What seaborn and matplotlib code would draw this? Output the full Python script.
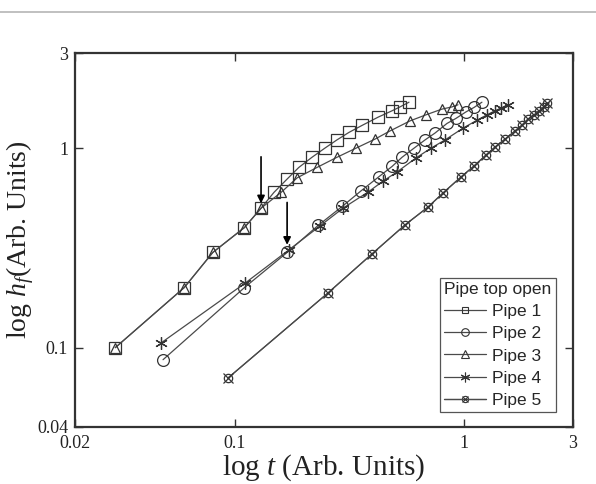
import matplotlib
matplotlib.use("Agg")
import matplotlib.pyplot as plt
from matplotlib.lines import Line2D
from matplotlib.legend_handler import HandlerTuple
from matplotlib.ticker import FixedLocator, FixedFormatter, NullLocator
import seaborn as sns

# ---- data: fluid height vs. time, log-log ----
t_pipe1 = [0.030, 0.060, 0.080, 0.110, 0.130, 0.148, 0.169, 0.190, 0.217,
           0.247, 0.279, 0.315, 0.359, 0.422, 0.486, 0.526, 0.576]
h_pipe1 = [0.10, 0.20, 0.30, 0.40, 0.50, 0.60, 0.70, 0.80, 0.90,
           1.00, 1.10, 1.20, 1.30, 1.43, 1.54, 1.61, 1.70]

t_pipe2 = [0.0485, 0.110, 0.169, 0.231, 0.294, 0.355, 0.426, 0.486, 0.537,
           0.606, 0.677, 0.748, 0.844, 0.924, 1.022, 1.108, 1.200]
h_pipe2 = [0.087, 0.20, 0.30, 0.41, 0.51, 0.61, 0.72, 0.81, 0.90,
           1.00, 1.10, 1.19, 1.33, 1.41, 1.52, 1.60, 1.70]

t_pipe3 = [0.030, 0.060, 0.080, 0.110, 0.130, 0.159, 0.187, 0.228, 0.279,
           0.338, 0.409, 0.476, 0.582, 0.684, 0.803, 0.888, 0.943]
h_pipe3 = [0.10, 0.20, 0.30, 0.40, 0.50, 0.60, 0.71, 0.80, 0.90,
           1.00, 1.11, 1.22, 1.37, 1.47, 1.57, 1.61, 1.65]

t_pipe4 = [0.0475, 0.111, 0.172, 0.235, 0.297, 0.382, 0.444, 0.511, 0.618,
           0.719, 0.828, 0.992, 1.142, 1.263, 1.369, 1.454, 1.560]
h_pipe4 = [0.1055, 0.211, 0.309, 0.407, 0.501, 0.603, 0.684, 0.760, 0.893,
           1.00, 1.10, 1.26, 1.38, 1.47, 1.54, 1.59, 1.65]

t_pipe5 = [0.0932, 0.255, 0.397, 0.553, 0.698, 0.811, 0.972, 1.108, 1.250,
           1.369, 1.514, 1.674, 1.796, 1.908, 2.026, 2.131, 2.241, 2.310]
h_pipe5 = [0.0704, 0.188, 0.295, 0.412, 0.507, 0.596, 0.717, 0.814, 0.924,
           1.013, 1.11, 1.22, 1.306, 1.40, 1.467, 1.536, 1.608, 1.684]

series_names = ["Pipe 1", "Pipe 2", "Pipe 3", "Pipe 4", "Pipe 5"]
legend_title = "Pipe top open"

x_ticks = [0.02, 0.1, 1, 3]
x_tick_labels = ["0.02", "0.1", "1", "3"]
y_ticks = [0.04, 0.1, 1, 3]
y_tick_labels = ["0.04", "0.1", "1", "3"]

# ---- style ----
sns.set_style("ticks")
plt.rcParams["font.family"] = ["Liberation Serif", "DejaVu Serif"]
plt.rcParams["mathtext.fontset"] = "custom"
plt.rcParams["mathtext.rm"] = "Liberation Serif"
plt.rcParams["mathtext.it"] = "Liberation Serif:italic"

line_c = "#4a4a4a"
edge_c = "#333333"

fig = plt.figure(figsize=(5.96, 4.84), dpi=100)
ax = fig.add_axes([75 / 596, 1 - 427 / 484, 498 / 596, 374 / 484])

common = dict(color=line_c, lw=0.9, markerfacecolor="none",
              markeredgecolor=edge_c, markeredgewidth=0.9,
              estimator=None, sort=False, legend=False, ax=ax)

sns.lineplot(x=t_pipe1, y=h_pipe1, marker="s", markersize=8, **common)
sns.lineplot(x=t_pipe3, y=h_pipe3, marker="^", markersize=7.5, **common)
sns.lineplot(x=t_pipe2, y=h_pipe2, marker="o", markersize=8.5, **common)
sns.lineplot(x=t_pipe4, y=h_pipe4, marker=(6, 2, 0), markersize=9, **common)
sns.lineplot(x=t_pipe5, y=h_pipe5, marker="o", markersize=6, **common)
sns.lineplot(x=t_pipe5, y=h_pipe5, marker="x", markersize=6.5, **common)

ax.set_xscale("log")
ax.set_yscale("log")
ax.set_xlim(0.02, 3)
ax.set_ylim(0.04, 3)

ax.xaxis.set_major_locator(FixedLocator(x_ticks))
ax.xaxis.set_major_formatter(FixedFormatter(x_tick_labels))
ax.yaxis.set_major_locator(FixedLocator(y_ticks))
ax.yaxis.set_major_formatter(FixedFormatter(y_tick_labels))
ax.xaxis.set_minor_locator(NullLocator())
ax.yaxis.set_minor_locator(NullLocator())
ax.tick_params(which="major", direction="in", length=6, width=1,
               color="#333333", top=True, right=True, labelsize=13,
               labelcolor="#222222")
ax.tick_params(axis="x", pad=6)
ax.tick_params(axis="y", pad=5)

for sp in ax.spines.values():
    sp.set_linewidth(1.6)
    sp.set_color("#333333")

ax.set_xlabel("log $t$ (Arb. Units)", fontsize=21, color="#222222", labelpad=0)
ax.set_ylabel("log $h_f$(Arb. Units)", fontsize=20, color="#222222", labelpad=1)

# arrows marking the departure points
arrow_kw = dict(arrowstyle="-|>", color="black", lw=1.2, mutation_scale=11,
                shrinkA=0)
ax.annotate("", xy=(t_pipe1[4], h_pipe1[4]), xytext=(0, 37),
            textcoords="offset points",
            arrowprops=dict(shrinkB=3.5, **arrow_kw))
ax.annotate("", xy=(t_pipe2[2], h_pipe2[2]), xytext=(0, 36),
            textcoords="offset points",
            arrowprops=dict(shrinkB=5.5, **arrow_kw))

# legend
lk = dict(color=line_c, lw=0.9, markerfacecolor="none",
          markeredgecolor=edge_c, markeredgewidth=0.8)
handles = [
    Line2D([], [], marker="s", markersize=5, **lk),
    Line2D([], [], marker="o", markersize=5.5, **lk),
    Line2D([], [], marker="^", markersize=5.5, **lk),
    Line2D([], [], marker=(6, 2, 0), markersize=7, **lk),
    (Line2D([], [], marker="o", markersize=4.5, **lk),
     Line2D([], [], marker="x", markersize=5, **lk)),
]
leg = ax.legend(handles, series_names, title=legend_title,
                loc="lower right", bbox_to_anchor=(0.966, 0.040),
                borderaxespad=0, fancybox=False, framealpha=1,
                edgecolor="#555555", prop={"family": "Liberation Sans", "size": 12.5},
                handlelength=2.4, handletextpad=0.35, labelspacing=0.4,
                borderpad=0.25, handler_map={tuple: HandlerTuple(ndivide=1)})
leg.get_title().set_fontfamily("Liberation Sans")
leg.get_title().set_fontsize(12.5)
leg._legend_box.align = "left"
leg.get_frame().set_linewidth(0.9)

# separator rule across the top
fig.add_artist(Line2D([0, 1], [1 - 12 / 484] * 2, transform=fig.transFigure,
                      color="#b5b5b5", lw=1.2))

fig.savefig("out.png", dpi=100)
